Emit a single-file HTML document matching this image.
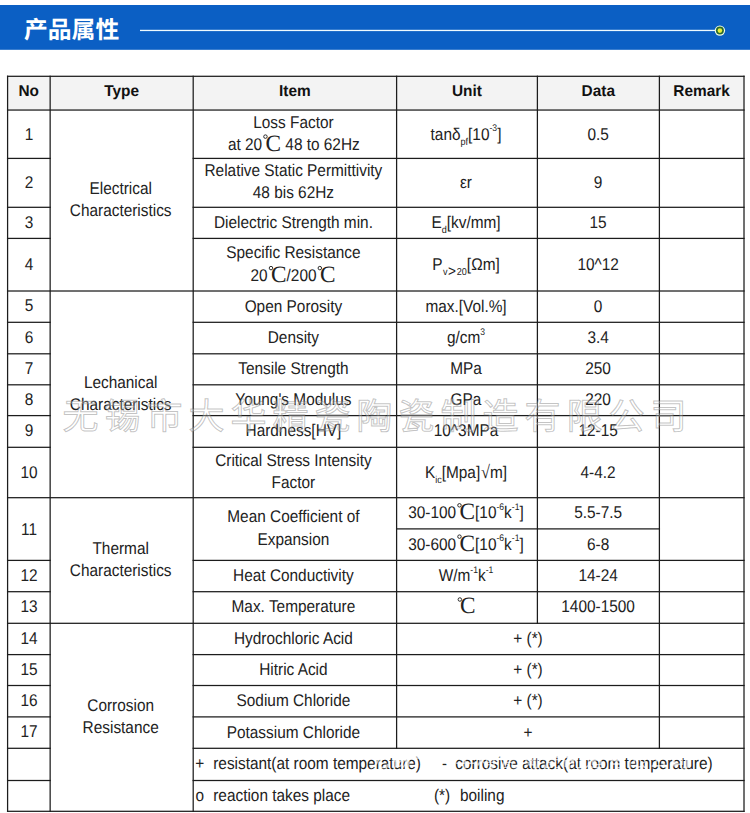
<!DOCTYPE html>
<html><head><meta charset="utf-8"><title>产品属性</title>
<style>
html,body{margin:0;padding:0;background:#fff;}
body{width:750px;height:813px;overflow:hidden;font-family:"Liberation Sans",sans-serif;}
svg{display:block;font-family:"Liberation Sans",sans-serif;}
svg text{white-space:pre;text-rendering:geometricPrecision;}
</style></head><body>
<svg width="750" height="813" viewBox="0 0 750 813">
<rect x="0" y="5" width="750" height="44.8" fill="#0b5fc4"/>
<rect x="140" y="29.8" width="575" height="1.3" fill="#eefaff"/>
<circle cx="719.9" cy="30.6" r="5.2" fill="#f2ffe4"/>
<circle cx="719.9" cy="30.6" r="4.0" fill="#2a6a30"/>
<circle cx="719.9" cy="30.6" r="2.3" fill="#e8f03a"/>
<text x="24" y="38" font-family="'Liberation Sans','Noto Sans CJK SC',sans-serif" font-size="23.8" font-weight="bold" fill="#fff">产品属性</text>
<rect x="7.6" y="76.3" width="736.4" height="33.8" fill="#f3f3f3"/>
<rect x="6.97" y="75.67" width="737.65" height="1.25" fill="#1c1c1c"/>
<rect x="6.97" y="109.42" width="737.65" height="1.25" fill="#1c1c1c"/>
<rect x="6.97" y="290.38" width="737.65" height="1.25" fill="#1c1c1c"/>
<rect x="6.97" y="497.07" width="737.65" height="1.25" fill="#1c1c1c"/>
<rect x="6.97" y="622.67" width="737.65" height="1.25" fill="#1c1c1c"/>
<rect x="6.97" y="810.67" width="737.65" height="1.25" fill="#1c1c1c"/>
<rect x="6.97" y="157.78" width="43.80" height="1.25" fill="#1c1c1c"/>
<rect x="192.57" y="157.78" width="552.05" height="1.25" fill="#1c1c1c"/>
<rect x="6.97" y="206.68" width="43.80" height="1.25" fill="#1c1c1c"/>
<rect x="192.57" y="206.68" width="552.05" height="1.25" fill="#1c1c1c"/>
<rect x="6.97" y="237.78" width="43.80" height="1.25" fill="#1c1c1c"/>
<rect x="192.57" y="237.78" width="552.05" height="1.25" fill="#1c1c1c"/>
<rect x="6.97" y="321.68" width="43.80" height="1.25" fill="#1c1c1c"/>
<rect x="192.57" y="321.68" width="552.05" height="1.25" fill="#1c1c1c"/>
<rect x="6.97" y="353.18" width="43.80" height="1.25" fill="#1c1c1c"/>
<rect x="192.57" y="353.18" width="552.05" height="1.25" fill="#1c1c1c"/>
<rect x="6.97" y="384.18" width="43.80" height="1.25" fill="#1c1c1c"/>
<rect x="192.57" y="384.18" width="552.05" height="1.25" fill="#1c1c1c"/>
<rect x="6.97" y="414.98" width="43.80" height="1.25" fill="#1c1c1c"/>
<rect x="192.57" y="414.98" width="552.05" height="1.25" fill="#1c1c1c"/>
<rect x="6.97" y="446.68" width="43.80" height="1.25" fill="#1c1c1c"/>
<rect x="192.57" y="446.68" width="552.05" height="1.25" fill="#1c1c1c"/>
<rect x="6.97" y="559.77" width="43.80" height="1.25" fill="#1c1c1c"/>
<rect x="192.57" y="559.77" width="552.05" height="1.25" fill="#1c1c1c"/>
<rect x="6.97" y="591.08" width="43.80" height="1.25" fill="#1c1c1c"/>
<rect x="192.57" y="591.08" width="552.05" height="1.25" fill="#1c1c1c"/>
<rect x="6.97" y="653.98" width="43.80" height="1.25" fill="#1c1c1c"/>
<rect x="192.57" y="653.98" width="552.05" height="1.25" fill="#1c1c1c"/>
<rect x="6.97" y="684.88" width="43.80" height="1.25" fill="#1c1c1c"/>
<rect x="192.57" y="684.88" width="552.05" height="1.25" fill="#1c1c1c"/>
<rect x="6.97" y="716.27" width="43.80" height="1.25" fill="#1c1c1c"/>
<rect x="192.57" y="716.27" width="552.05" height="1.25" fill="#1c1c1c"/>
<rect x="395.98" y="528.27" width="264.05" height="1.25" fill="#1c1c1c"/>
<rect x="6.97" y="747.67" width="43.80" height="1.25" fill="#1c1c1c"/>
<rect x="192.57" y="747.67" width="552.05" height="1.25" fill="#1c1c1c"/>
<rect x="6.97" y="779.88" width="43.80" height="1.25" fill="#1c1c1c"/>
<rect x="192.57" y="779.88" width="552.05" height="1.25" fill="#1c1c1c"/>
<rect x="6.97" y="75.67" width="1.25" height="736.25" fill="#1c1c1c"/>
<rect x="49.52" y="75.67" width="1.25" height="736.25" fill="#1c1c1c"/>
<rect x="192.57" y="75.67" width="1.25" height="736.25" fill="#1c1c1c"/>
<rect x="743.38" y="75.67" width="1.25" height="736.25" fill="#1c1c1c"/>
<rect x="395.98" y="75.67" width="1.25" height="673.25" fill="#1c1c1c"/>
<rect x="658.77" y="75.67" width="1.25" height="673.25" fill="#1c1c1c"/>
<rect x="536.77" y="75.67" width="1.25" height="548.25" fill="#1c1c1c"/>
<text transform="translate(28.77 96.40) scale(0.9750 1)" text-anchor="middle" font-size="15.80" font-weight="bold" fill="#111">No</text>
<text transform="translate(121.58 96.40) scale(0.9750 1)" text-anchor="middle" font-size="15.80" font-weight="bold" fill="#111">Type</text>
<text transform="translate(294.80 96.40) scale(0.9750 1)" text-anchor="middle" font-size="15.80" font-weight="bold" fill="#111">Item</text>
<text transform="translate(466.90 96.40) scale(0.9750 1)" text-anchor="middle" font-size="15.80" font-weight="bold" fill="#111">Unit</text>
<text transform="translate(598.30 96.40) scale(0.9750 1)" text-anchor="middle" font-size="15.80" font-weight="bold" fill="#111">Data</text>
<text transform="translate(701.60 96.40) scale(0.9750 1)" text-anchor="middle" font-size="15.80" font-weight="bold" fill="#111">Remark</text>
<text transform="translate(29.07 139.82) scale(0.9050 1)" text-anchor="middle" font-size="17.00" fill="#222">1</text>
<text transform="translate(29.07 188.45) scale(0.9050 1)" text-anchor="middle" font-size="17.00" fill="#222">2</text>
<text transform="translate(29.07 228.45) scale(0.9050 1)" text-anchor="middle" font-size="17.00" fill="#222">3</text>
<text transform="translate(29.07 270.30) scale(0.9050 1)" text-anchor="middle" font-size="17.00" fill="#222">4</text>
<text transform="translate(29.07 311.25) scale(0.9050 1)" text-anchor="middle" font-size="17.00" fill="#222">5</text>
<text transform="translate(29.07 342.65) scale(0.9050 1)" text-anchor="middle" font-size="17.00" fill="#222">6</text>
<text transform="translate(29.07 373.90) scale(0.9050 1)" text-anchor="middle" font-size="17.00" fill="#222">7</text>
<text transform="translate(29.07 404.80) scale(0.9050 1)" text-anchor="middle" font-size="17.00" fill="#222">8</text>
<text transform="translate(29.07 436.05) scale(0.9050 1)" text-anchor="middle" font-size="17.00" fill="#222">9</text>
<text transform="translate(29.07 478.10) scale(0.9050 1)" text-anchor="middle" font-size="17.00" fill="#222">10</text>
<text transform="translate(29.07 534.65) scale(0.9050 1)" text-anchor="middle" font-size="17.00" fill="#222">11</text>
<text transform="translate(29.07 580.65) scale(0.9050 1)" text-anchor="middle" font-size="17.00" fill="#222">12</text>
<text transform="translate(29.07 612.10) scale(0.9050 1)" text-anchor="middle" font-size="17.00" fill="#222">13</text>
<text transform="translate(29.07 643.55) scale(0.9050 1)" text-anchor="middle" font-size="17.00" fill="#222">14</text>
<text transform="translate(29.07 674.65) scale(0.9050 1)" text-anchor="middle" font-size="17.00" fill="#222">15</text>
<text transform="translate(29.07 705.80) scale(0.9050 1)" text-anchor="middle" font-size="17.00" fill="#222">16</text>
<text transform="translate(29.07 737.20) scale(0.9050 1)" text-anchor="middle" font-size="17.00" fill="#222">17</text>
<text transform="translate(120.67 193.83) scale(0.9050 1)" text-anchor="middle" font-size="17.00" fill="#222">Electrical</text>
<text transform="translate(120.67 215.83) scale(0.9050 1)" text-anchor="middle" font-size="17.00" fill="#222">Characteristics</text>
<text transform="translate(120.67 387.65) scale(0.9050 1)" text-anchor="middle" font-size="17.00" fill="#222">Lechanical</text>
<text transform="translate(120.67 409.65) scale(0.9050 1)" text-anchor="middle" font-size="17.00" fill="#222">Characteristics</text>
<text transform="translate(120.67 553.80) scale(0.9050 1)" text-anchor="middle" font-size="17.00" fill="#222">Thermal</text>
<text transform="translate(120.67 575.80) scale(0.9050 1)" text-anchor="middle" font-size="17.00" fill="#222">Characteristics</text>
<text transform="translate(120.67 710.60) scale(0.9050 1)" text-anchor="middle" font-size="17.00" fill="#222">Corrosion</text>
<text transform="translate(120.67 732.60) scale(0.9050 1)" text-anchor="middle" font-size="17.00" fill="#222">Resistance</text>
<text transform="translate(293.40 127.53) scale(0.9050 1)" text-anchor="middle" font-size="17.00" fill="#222">Loss Factor</text>
<text transform="translate(293.40 176.15) scale(0.9050 1)" text-anchor="middle" font-size="17.00" fill="#222">Relative Static Permittivity</text>
<text transform="translate(293.40 198.15) scale(0.9050 1)" text-anchor="middle" font-size="17.00" fill="#222">48 bis 62Hz</text>
<text transform="translate(293.40 228.35) scale(0.9050 1)" text-anchor="middle" font-size="17.00" fill="#222">Dielectric Strength min.</text>
<text transform="translate(293.40 258.00) scale(0.9050 1)" text-anchor="middle" font-size="17.00" fill="#222">Specific Resistance</text>
<text transform="translate(293.40 311.55) scale(0.9050 1)" text-anchor="middle" font-size="17.00" fill="#222">Open Porosity</text>
<text transform="translate(293.40 342.95) scale(0.9050 1)" text-anchor="middle" font-size="17.00" fill="#222">Density</text>
<text transform="translate(293.40 374.20) scale(0.9050 1)" text-anchor="middle" font-size="17.00" fill="#222">Tensile Strength</text>
<text transform="translate(293.40 405.10) scale(0.9050 1)" text-anchor="middle" font-size="17.00" fill="#222">Young's Modulus</text>
<text transform="translate(293.40 436.35) scale(0.9050 1)" text-anchor="middle" font-size="17.00" fill="#222">Hardness[HV]</text>
<text transform="translate(293.40 465.80) scale(0.9050 1)" text-anchor="middle" font-size="17.00" fill="#222">Critical Stress Intensity</text>
<text transform="translate(293.40 487.80) scale(0.9050 1)" text-anchor="middle" font-size="17.00" fill="#222">Factor</text>
<text transform="translate(293.40 522.35) scale(0.9050 1)" text-anchor="middle" font-size="17.00" fill="#222">Mean Coefficient of</text>
<text transform="translate(293.40 545.15) scale(0.9050 1)" text-anchor="middle" font-size="17.00" fill="#222">Expansion</text>
<text transform="translate(293.40 580.95) scale(0.9050 1)" text-anchor="middle" font-size="17.00" fill="#222">Heat Conductivity</text>
<text transform="translate(293.40 612.40) scale(0.9050 1)" text-anchor="middle" font-size="17.00" fill="#222">Max. Temperature</text>
<text transform="translate(293.40 643.85) scale(0.9050 1)" text-anchor="middle" font-size="17.00" fill="#222">Hydrochloric Acid</text>
<text transform="translate(293.40 674.95) scale(0.9050 1)" text-anchor="middle" font-size="17.00" fill="#222">Hitric Acid</text>
<text transform="translate(293.40 706.10) scale(0.9050 1)" text-anchor="middle" font-size="17.00" fill="#222">Sodium Chloride</text>
<text transform="translate(293.40 737.50) scale(0.9050 1)" text-anchor="middle" font-size="17.00" fill="#222">Potassium Chloride</text>
<text transform="translate(466.00 139.72) scale(0.9050 1)" text-anchor="middle" font-size="17.00" fill="#222">tanδ<tspan font-size="10" dy="4.8">pf</tspan><tspan dy="-4.8">[10</tspan><tspan font-size="9.5" dy="-8.3">-3</tspan><tspan dy="8.3">]</tspan></text>
<text transform="translate(466.00 188.35) scale(0.9050 1)" text-anchor="middle" font-size="17.00" fill="#222">εr</text>
<text transform="translate(466.00 228.35) scale(0.9050 1)" text-anchor="middle" font-size="17.00" fill="#222">E<tspan font-size="10" dy="4.8">d</tspan><tspan dy="-4.8">[kv/mm]</tspan></text>
<text transform="translate(466.00 270.20) scale(0.9050 1)" text-anchor="middle" font-size="17.00" fill="#222">P<tspan font-size="10" dy="4.8" dx="0.5">v</tspan><tspan font-size="15" dx="0.5" dy="1.3">&gt;</tspan><tspan font-size="10" dx="1" dy="-1.3">20</tspan><tspan dy="-4.8">[Ωm]</tspan></text>
<text transform="translate(466.00 311.55) scale(0.9050 1)" text-anchor="middle" font-size="17.00" fill="#222">max.[Vol.%]</text>
<text transform="translate(466.00 342.95) scale(0.9050 1)" text-anchor="middle" font-size="17.00" fill="#222">g/cm<tspan font-size="9.5" dy="-8.3">3</tspan></text>
<text transform="translate(466.00 374.20) scale(0.9050 1)" text-anchor="middle" font-size="17.00" fill="#222">MPa</text>
<text transform="translate(466.00 405.10) scale(0.9050 1)" text-anchor="middle" font-size="17.00" fill="#222">GPa</text>
<text transform="translate(466.00 436.35) scale(0.9050 1)" text-anchor="middle" font-size="17.00" fill="#222">10^3MPa</text>
<text transform="translate(466.00 478.00) scale(0.9050 1)" text-anchor="middle" font-size="17.00" fill="#222">K<tspan font-size="10" dy="4.8">ic</tspan><tspan dy="-4.8">[Mpa]</tspan><tspan font-family="Liberation Serif" font-size="18" dx="1">√</tspan>m]</text>
<text transform="translate(466.00 580.95) scale(0.9050 1)" text-anchor="middle" font-size="17.00" fill="#222">W/m<tspan font-size="9.5" dy="-8.3">-1</tspan><tspan dy="8.3">k</tspan><tspan font-size="9.5" dy="-8.3">-1</tspan></text>
<text transform="translate(598.10 139.72) scale(0.9050 1)" text-anchor="middle" font-size="17.00" fill="#222">0.5</text>
<text transform="translate(598.10 188.35) scale(0.9050 1)" text-anchor="middle" font-size="17.00" fill="#222">9</text>
<text transform="translate(598.10 228.35) scale(0.9050 1)" text-anchor="middle" font-size="17.00" fill="#222">15</text>
<text transform="translate(598.10 270.20) scale(0.9050 1)" text-anchor="middle" font-size="17.00" fill="#222">10^12</text>
<text transform="translate(598.10 311.55) scale(0.9050 1)" text-anchor="middle" font-size="17.00" fill="#222">0</text>
<text transform="translate(598.10 342.95) scale(0.9050 1)" text-anchor="middle" font-size="17.00" fill="#222">3.4</text>
<text transform="translate(598.10 374.20) scale(0.9050 1)" text-anchor="middle" font-size="17.00" fill="#222">250</text>
<text transform="translate(598.10 405.10) scale(0.9050 1)" text-anchor="middle" font-size="17.00" fill="#222">220</text>
<text transform="translate(598.10 436.35) scale(0.9050 1)" text-anchor="middle" font-size="17.00" fill="#222">12-15</text>
<text transform="translate(598.10 478.00) scale(0.9050 1)" text-anchor="middle" font-size="17.00" fill="#222">4-4.2</text>
<text transform="translate(598.10 518.20) scale(0.9050 1)" text-anchor="middle" font-size="17.00" fill="#222">5.5-7.5</text>
<text transform="translate(598.10 549.55) scale(0.9050 1)" text-anchor="middle" font-size="17.00" fill="#222">6-8</text>
<text transform="translate(598.10 580.95) scale(0.9050 1)" text-anchor="middle" font-size="17.00" fill="#222">14-24</text>
<text transform="translate(598.10 612.40) scale(0.9050 1)" text-anchor="middle" font-size="17.00" fill="#222">1400-1500</text>
<text transform="translate(528.00 643.85) scale(0.9050 1)" text-anchor="middle" font-size="17.00" fill="#222">+ (*)</text>
<text transform="translate(528.00 674.95) scale(0.9050 1)" text-anchor="middle" font-size="17.00" fill="#222">+ (*)</text>
<text transform="translate(528.00 706.10) scale(0.9050 1)" text-anchor="middle" font-size="17.00" fill="#222">+ (*)</text>
<text transform="translate(528.00 737.50) scale(0.9050 1)" text-anchor="middle" font-size="17.00" fill="#222">+</text>
<text transform="translate(195.20 769.30) scale(0.9050 1)" text-anchor="start" font-size="17.00" fill="#222">+</text>
<text transform="translate(213.20 769.30) scale(0.9050 1)" text-anchor="start" font-size="17.00" fill="#222">resistant(at room temperature)</text>
<text transform="translate(442.00 769.30) scale(0.9050 1)" text-anchor="start" font-size="17.00" fill="#222">-</text>
<text transform="translate(455.30 769.30) scale(0.9050 1)" text-anchor="start" font-size="17.00" fill="#222">corrosive attack(at room temperature)</text>
<text transform="translate(195.60 800.80) scale(0.9050 1)" text-anchor="start" font-size="17.00" fill="#222">o</text>
<text transform="translate(213.20 800.80) scale(0.9050 1)" text-anchor="start" font-size="17.00" fill="#222">reaction takes place</text>
<text transform="translate(434.00 800.80) scale(0.9050 1)" text-anchor="start" font-size="17.00" fill="#222">(*)</text>
<text transform="translate(460.00 800.80) scale(0.9050 1)" text-anchor="start" font-size="17.00" fill="#222">boiling</text>
<text transform="translate(227.93 149.53) scale(0.9050 1)" font-size="17.00" fill="#222">at 20</text>
<circle cx="265.45" cy="136.62" r="1.75" fill="none" stroke="#222" stroke-width="0.95"/>
<text x="265.50" y="150.53" font-family="Liberation Serif" font-size="23.30" fill="#222">C</text>
<text transform="translate(281.05 149.53) scale(0.9050 1)" font-size="17.00" fill="#222"> 48 to 62Hz</text>
<text transform="translate(250.56 281.00) scale(0.9050 1)" font-size="17.00" fill="#222">20</text>
<circle cx="270.99" cy="268.10" r="1.75" fill="none" stroke="#222" stroke-width="0.95"/>
<text x="271.04" y="282.00" font-family="Liberation Serif" font-size="23.30" fill="#222">C</text>
<text transform="translate(286.59 281.00) scale(0.9050 1)" font-size="17.00" fill="#222">/200</text>
<circle cx="319.84" cy="268.10" r="1.75" fill="none" stroke="#222" stroke-width="0.95"/>
<text x="319.89" y="282.00" font-family="Liberation Serif" font-size="23.30" fill="#222">C</text>
<text transform="translate(408.26 518.20) scale(0.9050 1)" font-size="17.00" fill="#222">30-100</text>
<circle cx="459.47" cy="505.30" r="1.75" fill="none" stroke="#222" stroke-width="0.95"/>
<text x="459.52" y="519.20" font-family="Liberation Serif" font-size="23.30" fill="#222">C</text>
<text transform="translate(475.07 518.20) scale(0.9050 1)" font-size="17.00" fill="#222">[10<tspan font-size="9.5" dy="-8.3">-6</tspan><tspan dy="8.3">k</tspan><tspan font-size="9.5" dy="-8.3">-1</tspan><tspan dy="8.3">]</tspan></text>
<text transform="translate(408.26 549.55) scale(0.9050 1)" font-size="17.00" fill="#222">30-600</text>
<circle cx="459.47" cy="536.65" r="1.75" fill="none" stroke="#222" stroke-width="0.95"/>
<text x="459.52" y="550.55" font-family="Liberation Serif" font-size="23.30" fill="#222">C</text>
<text transform="translate(475.07 549.55) scale(0.9050 1)" font-size="17.00" fill="#222">[10<tspan font-size="9.5" dy="-8.3">-6</tspan><tspan dy="8.3">k</tspan><tspan font-size="9.5" dy="-8.3">-1</tspan><tspan dy="8.3">]</tspan></text>
<circle cx="459.85" cy="599.50" r="1.75" fill="none" stroke="#222" stroke-width="0.95"/>
<text x="459.90" y="613.40" font-family="Liberation Serif" font-size="23.30" fill="#222">C</text>
<text x="62.5" y="428.5" font-family="'Liberation Sans','Noto Sans CJK SC',sans-serif" font-size="36" letter-spacing="6" fill="rgba(255,255,255,0.3)" stroke="rgba(110,110,110,0.42)" stroke-width="1">无锡市大华精瓷陶瓷制造有限公司</text>
<text x="369.3" y="767.3" font-family="'Liberation Sans','Noto Sans CJK SC',sans-serif" font-size="20" letter-spacing="1.5" fill="rgba(255,255,255,0.72)">无锡市大华精瓷陶瓷制造有限公司</text>
</svg>
</body></html>
